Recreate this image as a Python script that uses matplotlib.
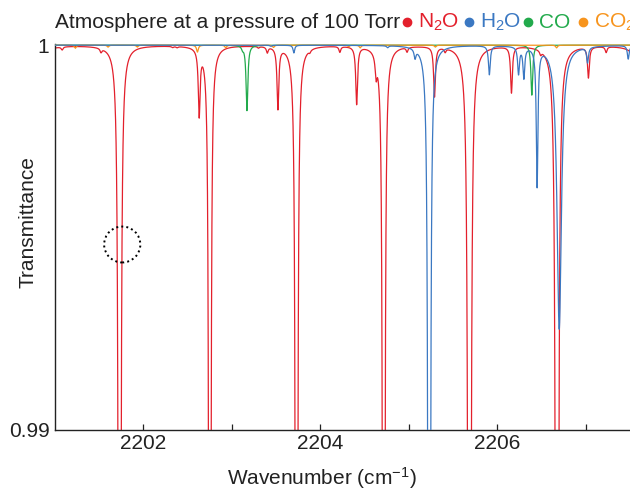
import numpy as np
import matplotlib
matplotlib.use("Agg")
import matplotlib.pyplot as plt
from matplotlib.patches import Ellipse
from matplotlib.lines import Line2D

plt.rcParams['font.family'] = ['Liberation Sans', 'DejaVu Sans']
plt.rcParams['mathtext.fontset'] = 'custom'
plt.rcParams['mathtext.rm'] = 'Liberation Sans'
plt.rcParams['mathtext.it'] = 'Liberation Sans:italic'

# ---- line lists: centre (cm-1), peak absorbance, Lorentz HWHM (cm-1) ----
n2o_pos = [2200.75, 2201.08, 2201.52, 2201.73, 2202.33, 2202.38, 2202.63, 2202.75,
           2203.30, 2203.40, 2203.52, 2203.73, 2203.88, 2204.22, 2204.41, 2204.63,
           2204.716, 2204.98, 2205.29, 2205.41, 2205.685, 2206.16, 2206.49, 2206.675,
           2207.03, 2207.23, 2207.66]
n2o_abs = [0.25, 8e-5, 1e-4, 0.25, 3e-5, 3e-5, 0.0017, 0.17,
           4e-5, 1.5e-4, 0.0016, 0.2, 6e-5, 1.5e-4, 0.0015, 5e-4,
           0.2, 1.2e-4, 0.0013, 1e-4, 0.34, 0.0012, 1e-4, 0.34,
           0.0008, 1.5e-4, 0.25]
n2o_hw = [0.004, 0.012, 0.012, 0.004, 0.012, 0.012, 0.012, 0.004,
          0.012, 0.012, 0.012, 0.004, 0.012, 0.012, 0.012, 0.012,
          0.004, 0.012, 0.012, 0.012, 0.004, 0.012, 0.012, 0.004,
          0.012, 0.012, 0.004]
h2o_pos = [2203.44, 2203.70, 2204.76, 2205.07, 2205.23, 2205.91, 2206.24, 2206.30,
           2206.45, 2206.70, 2207.02, 2207.48]
h2o_abs = [3e-5, 2e-4, 5e-5, 2.3e-4, 0.22, 7.5e-4, 7e-4, 8e-4,
           0.0036, 0.0074, 4e-4, 3.5e-4]
h2o_hw = [0.012, 0.011, 0.012, 0.012, 0.004, 0.012, 0.012, 0.012,
          0.011, 0.03, 0.012, 0.012]
co_pos = [2203.12, 2203.17, 2206.39]
co_abs = [8e-5, 0.0017, 0.0013]
co_hw = [0.012, 0.012, 0.012]
co2_pos = [2201.23, 2201.60, 2201.93, 2202.61, 2202.93, 2203.47, 2204.32, 2204.45,
           2205.30, 2206.67]
co2_abs = [8e-5, 5e-5, 5e-5, 1.8e-4, 7e-5, 6e-5, 4e-5, 7e-5, 5e-5, 7e-5]
co2_hw = [0.012] * 10

species = ['N$_2$O', 'H$_2$O', 'CO', 'CO$_2$']
colors = ['#e3202c', '#3b78c2', '#22aa4c', '#f7941d']

x_ticks = [2202, 2204, 2206]
x_minor = [2203, 2205, 2207]
y_ticks = [0.99, 1.0]
y_ticklabels = ['0.99', '1']

nu = np.linspace(2200.95, 2207.55, 40000)


def transmittance(pos, absb, hw):
    alpha = np.zeros_like(nu)
    for p, a, g in zip(pos, absb, hw):
        alpha += a / (1.0 + ((nu - p) / g) ** 2)
    return np.exp(-alpha)


fig = plt.figure(figsize=(6.3, 4.9), dpi=100)
ax = fig.add_axes([55 / 630, 60 / 490, 1 - 55 / 630, (430 - 44) / 490])

spectra = [
    transmittance(n2o_pos, n2o_abs, n2o_hw),
    transmittance(h2o_pos, h2o_abs, h2o_hw),
    transmittance(co_pos, co_abs, co_hw),
    transmittance(co2_pos, co2_abs, co2_hw),
]
order = [0, 2, 3, 1]
for z, i in enumerate(order):
    ax.plot(nu, spectra[i], color=colors[i], lw=0.9, zorder=2 + z)

ax.set_xlim(2201.0, 2207.5)
ax.set_ylim(0.99, 1.00003)
ax.set_xticks(x_ticks)
ax.set_xticks(x_minor, minor=True)
ax.set_yticks(y_ticks)
ax.set_yticklabels(y_ticklabels)
ax.tick_params(axis='both', which='both', direction='in', length=4, width=0.9,
               labelsize=15, colors='#222222')
ax.tick_params(axis='y', length=0, pad=4)
ax.tick_params(axis='x', pad=3)
for s in ['top', 'right']:
    ax.spines[s].set_visible(False)
for s in ['left', 'bottom']:
    ax.spines[s].set_linewidth(1.0)
    ax.spines[s].set_color('#222222')

fig.text(322 / 630, 1 - 478 / 490, 'Wavenumber (cm$^{-1}$)', fontsize=15, color='#222222',
         ha='center', va='center')
fig.text(28 / 630, 1 - 222 / 490, 'Transmittance', fontsize=15, color='#222222',
         ha='center', va='center', rotation=90)

circ = Ellipse((2201.76, 0.99482), width=36 / 88, height=36 / 386 * 0.01,
               fill=False, edgecolor='black', linestyle=(0, (1, 1.6)), lw=1.4, zorder=10)
ax.add_patch(circ)

# title and colour legend
fig.text(55 / 630, 1 - 28 / 490, 'Atmosphere at a pressure of 100 Torr', fontsize=15,
         color='#222222', va='baseline', ha='left')
dot_x = [407, 469, 528, 583]
txt_x = [418, 480, 539, 594]
for i in range(4):
    fig.add_artist(Line2D([dot_x[i] / 630], [1 - 22 / 490], marker='o', ms=6,
                          color=colors[i], transform=fig.transFigure))
    fig.text(txt_x[i] / 630, 1 - 28 / 490, species[i], fontsize=15, color=colors[i],
             va='baseline', ha='left')

fig.savefig('out.png', dpi=100)
